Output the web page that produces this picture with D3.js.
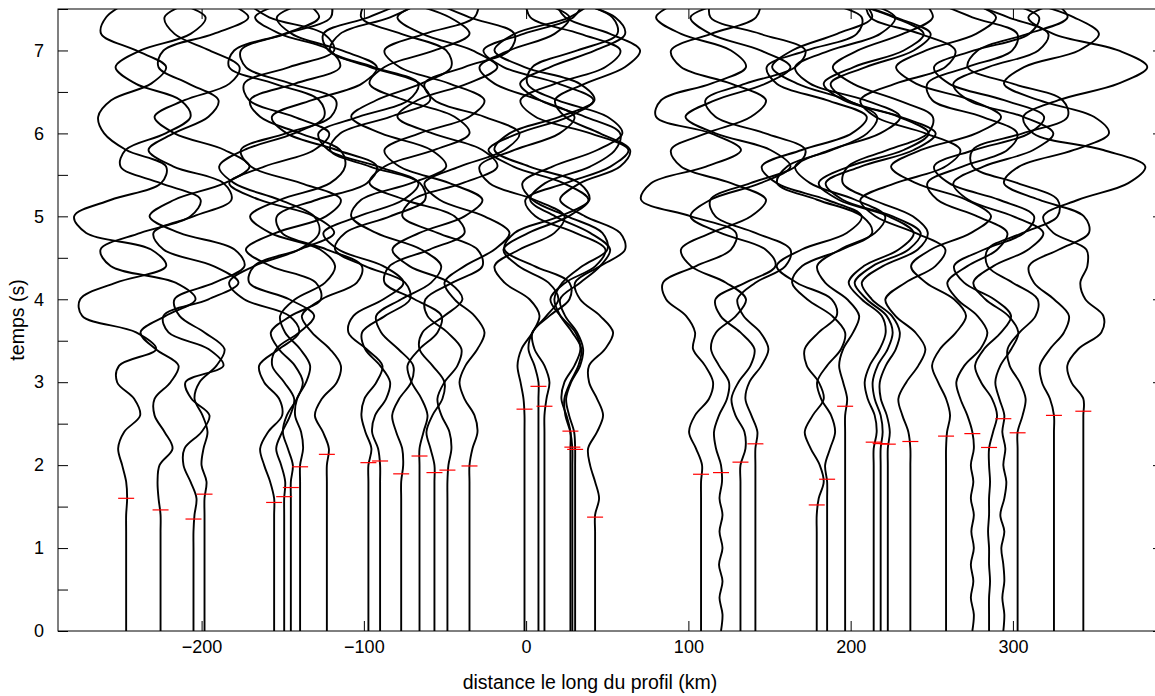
<!DOCTYPE html>
<html><head><meta charset="utf-8">
<script src="https://cdn.jsdelivr.net/npm/d3@7"></script>
<style>
body{margin:0;background:#fff}
svg{display:block}
text{font-family:"Liberation Sans",Arial,Helvetica,sans-serif}
</style>
</head><body>
<svg id="chart" width="1155" height="696"></svg>
<script>
// ---------------- data ----------------
// station positions along the profile (km)
const stations = [-246.5,-225.3,-205,-198.2,-155.3,-149.1,-145,-139.3,-122.8,
  -97.2,-90,-77,-65.7,-56.5,-48.5,-34.9,
  -1,7.6,11.3,27.3,28.5,30.2,42.5,
  107.8,120.1,132.1,141.3,179.1,185.5,196.6,214.2,218.5,222.9,
  236.8,258.8,275,285.3,294.1,302.9,325.3,343.4];
// picked arrival times (s)
const picks = [1.60,1.46,1.35,1.65,1.55,1.62,1.73,1.98,2.13,
  2.03,2.05,1.895,2.11,1.91,1.94,1.99,
  2.675,2.95,2.71,2.41,2.217,2.19,1.373,
  1.89,1.91,2.036,2.257,1.52,1.83,2.71,2.277,2.26,2.253,
  2.285,2.35,2.38,2.213,2.56,2.39,2.6,2.65];
// sample times (s)
const times = [0,0.2,0.4,0.6,0.8,1.0,1.2,1.4,1.6,1.8,2.0,2.2,2.4,2.6,2.8,3.0,3.2,3.4,3.6,3.8,
  4.0,4.2,4.4,4.6,4.8,5.0,5.2,5.4,5.6,5.8,6.0,6.2,6.4,6.6,6.8,7.0,7.2,7.4,7.6];
// trace amplitudes (arbitrary units)
const amp01 = [0,0,0,0,0,0,0,0,1,0,-4,-8,-2,14,8,-9,-7,30,10,-44,-46,-10,40,25,-40,-52,-15,35,40,0,-22,-28,-15,25,40,10,-25,-20,5];
const amp02 = [0,0,0,0,0,0,0,0,-2,-3,-1,12,4,-6,-6,10,18,-5,-20,5,35,15,-50,-60,-20,30,40,0,-40,-35,5,30,20,-25,-45,-20,30,45,10];
const amp03 = [0,0,0,0,0,0,0,1,3,-3,-10,-9,8,16,-2,-8,30,15,-25,-30,15,45,20,-30,-40,0,38,30,-20,-45,-20,15,25,-5,-35,-30,20,55,30];
const amp04 = [0,0,0,0,0,0,0,0,0,2,-3,-1,3,-2,-10,-5,12,20,0,-25,-30,10,40,30,-25,-55,-30,20,45,20,-30,-50,-20,25,35,5,-30,-40,-10];
const amp05 = [0,0,0,0,0,0,0,0,0,-4,-10,-14,-6,8,5,-10,-15,5,25,15,-30,-45,-20,25,45,40,5,-40,-55,-30,20,50,45,0,-45,-40,10,45,30];
const amp06 = [0,0,0,0,0,0,0,0,0,1,-3,-8,-2,6,10,0,-12,-8,15,30,5,-35,-30,15,50,30,-25,-55,-20,30,45,10,-35,-40,5,50,40,-15,-40];
const amp07 = [0,0,0,0,0,0,0,0,0,0,2,-3,-8,-4,6,12,4,-12,-20,0,30,25,-20,-45,-15,35,50,10,-40,-50,-5,40,45,0,-45,-50,-5,40,40];
const amp08 = [0,0,0,0,0,0,0,0,0,0,0,3,1,-5,-3,6,10,0,-15,-20,-5,25,35,20,-30,-50,-20,30,45,40,0,-40,-50,-5,40,30,-20,-45,-10];
const amp09 = [0,0,0,0,0,0,0,0,0,0,0,2,-4,-12,-5,10,14,3,-15,-25,-5,30,35,0,-45,-50,-10,40,50,10,-40,-55,-15,35,50,15,-35,-50,-15];
const amp10 = [0,0,0,0,0,0,0,0,0,0,0,3,-3,-7,-4,8,14,-2,-20,-15,15,35,15,-30,-45,-10,35,50,10,-40,-50,-10,40,50,5,-40,-45,0,40];
const amp11 = [0,0,0,0,0,0,0,0,0,0,0,-2,-8,-5,6,10,0,-15,-18,5,30,25,-15,-45,-35,10,45,40,-10,-50,-40,10,50,40,-10,-50,-40,10,45];
const amp12 = [0,0,0,0,0,0,0,0,0,0,2,1,-5,-9,-2,10,12,-3,-20,-25,0,30,40,20,-25,-50,-40,10,45,30,-20,-50,-25,20,50,45,0,-40,-35];
const amp13 = [0,0,0,0,0,0,0,0,0,0,0,0,4,8,2,-8,-12,0,18,22,-5,-35,-30,10,45,35,-15,-50,-35,15,50,35,-15,-50,-35,15,50,30,-20];
const amp14 = [0,0,0,0,0,0,0,0,0,0,0,-4,-8,-2,8,10,-2,-15,-12,10,28,15,-25,-42,-15,30,48,15,-35,-50,-15,35,50,15,-35,-50,-10,40,45];
const amp15 = [0,0,0,0,0,0,0,0,0,0,1,4,2,-6,-10,-3,10,14,0,-20,-22,5,35,30,-10,-45,-35,15,50,35,-15,-50,-30,20,50,25,-25,-50,-20];
const amp16 = [0,0,0,0,0,0,0,0,0,0,0,3,8,5,-5,-10,-4,8,15,5,-15,-25,-5,25,40,15,-30,-45,-10,35,50,15,-35,-45,-5,40,45,0,-40];
const amp17 = [0,0,0,0,0,0,0,0,0,0,0,0,0,0,-1,-4,-7,-3,8,15,5,-20,-30,-5,30,40,10,-35,-45,-10,35,50,15,-30,-45,-15,30,45,10];
const amp18 = [0,0,0,0,0,0,0,0,0,0,0,0,0,0,0,0,-4,-10,-6,8,20,10,-20,-35,-10,30,50,25,-25,-50,-20,30,55,20,-35,-55,-15,35,45];
const amp19 = [0,0,0,0,0,0,0,0,0,0,0,0,0,0,2,5,0,-10,-12,5,25,25,-10,-40,-30,15,45,35,-15,-50,-35,15,50,35,-20,-50,-30,25,50];
const amp20 = [0,0,0,0,0,0,0,0,0,0,0,0,0,-4,-9,-6,4,10,5,-10,-20,-5,25,35,5,-35,-45,-5,40,58,20,-35,-50,-15,35,50,10,-40,-45];
const amp21 = [0,0,0,0,0,0,0,0,0,0,0,0,-2,-7,-8,-2,6,9,0,-12,-18,-10,10,35,30,-5,-40,-50,-20,25,50,35,-15,-45,-40,5,45,40,0];
const amp22 = [0,0,0,0,0,0,0,0,0,0,0,0,-1,-6,-9,-4,5,8,2,-10,-15,5,25,35,15,-20,-45,-30,15,40,45,10,-35,-55,-25,20,50,40,-5];
const amp23 = [0,0,0,0,0,0,0,0,4,0,-5,-7,2,8,2,-6,-6,10,18,5,-15,-20,5,30,25,-10,-35,-15,25,35,5,-30,-40,-10,30,45,15,-30,-40];
const amp24 = [0,0,0,0,0,0,0,0,0,0,1,-5,-12,-6,8,12,4,-8,-6,-15,-35,-38,-5,30,35,-10,-60,-50,5,40,10,-45,-40,10,45,30,-20,-45,-20];
const amp25 = [0,1.5,-1.5,1.5,-2,1.5,-1.5,1.5,-1.5,1,0,-5,-7,-2,6,8,-2,-10,-5,15,25,5,-30,-40,-10,30,45,10,-40,-50,-15,30,45,10,-40,-50,-10,35,40];
const amp26 = [0,0,0,0,0,0,0,0,0,0,0,5,4,-5,-9,-2,10,14,0,-20,-25,5,35,25,-20,-50,-30,20,50,30,-25,-55,-25,25,50,20,-30,-50,-10];
const amp27 = [0,0,0,0,0,0,0,0,0,0,0,0,2,-4,-10,-6,6,13,5,-12,-18,0,30,35,0,-40,-45,-5,40,50,10,-40,-50,-10,40,50,5,-45,-45];
const amp28 = [0,0,0,0,0,0,0,0,2,7,3,-6,-12,-4,7,2,-10,-12,2,20,15,-20,-40,-15,30,45,10,-40,-55,-15,35,50,10,-40,-50,-10,40,45,0];
const amp29 = [0,0,0,0,0,0,0,0,0,0,-2,3,8,4,-6,-10,0,14,18,5,-20,-35,-25,15,45,35,-10,-50,-40,5,40,50,20,-30,-55,-35,10,45,35];
const amp30 = [0,0,0,0,0,0,0,0,0,0,0,0,0,0,2,-2,-6,-2,8,14,2,-20,-28,-5,30,40,10,-35,-50,-15,35,55,20,-35,-50,-15,35,50,15];
const amp31 = [0,0,0,0,0,0,0,0,0,0,0,0,3,1,-6,-9,-4,6,12,8,-12,-25,-10,25,40,15,-35,-55,-25,30,55,25,-30,-50,-20,30,50,20,-30];
const amp32 = [0,0,0,0,0,0,0,0,0,0,0,0,2,0,-6,-8,-3,7,12,6,-14,-26,-8,28,40,12,-38,-55,-20,33,55,20,-33,-50,-15,33,50,15,-33];
const amp33 = [0,0,0,0,0,0,0,0,0,0,0,0,2,-1,-7,-8,-2,8,12,4,-16,-26,-5,30,40,25,-15,-45,-40,0,40,45,10,-35,-55,-30,15,45,35];
const amp34 = [0,0,0,0,0,0,0,0,0,0,0,0,-2,-8,-12,-4,8,15,5,-15,-25,-5,25,35,5,-35,-50,-15,35,50,15,-35,-50,-15,35,45,10,-40,-45];
const amp35 = [0,0,0,0,0,0,0,0,0,0,0,0,1,4,0,-8,-14,-6,10,20,8,-20,-35,-15,25,45,20,-30,-55,-25,30,55,25,-30,-50,-20,30,50,20];
const amp36 = [0,1.5,-1.5,1,-1.5,1.5,-1,1.5,-1.5,1,-1.5,1.5,0,-5,-12,-16,-8,8,15,5,-15,-25,-5,25,35,5,-35,-45,-10,35,45,10,-40,-45,-5,40,45,0,-40];
const amp37 = [0,0,0,1,0,0,-1,0,0,1,0,0,4,8,3,-8,-14,-5,12,22,5,-25,-35,-5,35,45,10,-40,-55,-15,40,55,15,-40,-55,-15,40,50,10];
const amp38 = [0,1,-1,1,0,-2,1,-3,1,3,0,2,-1,1,-4,-8,-3,8,15,5,-18,-30,-10,25,40,10,-35,-50,-20,30,50,20,-35,-50,-15,35,45,5,-40];
const amp39 = [0,0,0,0,0,0,0,0,0,0,0,0,0,5,8,2,-8,-10,2,18,20,-5,-30,-30,5,40,40,0,-45,-45,5,50,45,-5,-50,-40,10,50,35];
const amp40 = [0,0,0,0,0,0,0,0,0,0,0,0,0,0,-4,-12,-14,-4,10,15,0,-20,-25,5,35,30,-15,-50,-35,20,55,40,-15,-50,-30,25,45,20,-30];
const amp41 = [0,0,0,0,0,0,0,0,0,0,0,0,0,0,0,-12,-16,-5,18,20,2,-3,4,3,-30,-40,-5,45,62,20,-50,-60,-25,35,64,35,-30,-55,-20];
const amplitudes = [amp01,amp02,amp03,amp04,amp05,amp06,amp07,amp08,amp09,amp10,
  amp11,amp12,amp13,amp14,amp15,amp16,amp17,amp18,amp19,amp20,
  amp21,amp22,amp23,amp24,amp25,amp26,amp27,amp28,amp29,amp30,
  amp31,amp32,amp33,amp34,amp35,amp36,amp37,amp38,amp39,amp40,amp41];
const xTicks = [-200,-100,0,100,200,300];
const yTicksLeft = [0,0.5,1,1.5,2,2.5,3,3.5,4,4.5,5,5.5,6,6.5,7,7.5];
const yTicksRight = [0,1,2,3,4,5,6,7];
const xDomain = [-288.5, 392.5];
const yDomain = [0, 7.5];
const gain = 0.616; // km of deflection per amplitude unit

// ---------------- drawing ----------------
const svg = d3.select('#chart');
const L = 58, R = 1163, T = 9, B = 631;
const x = d3.scaleLinear().domain(xDomain).range([L, R]);
const y = d3.scaleLinear().domain(yDomain).range([B, T]);

svg.append('defs').append('clipPath').attr('id','clip')
  .append('rect').attr('x', L).attr('y', T).attr('width', R - L).attr('height', B - T);

const plot = svg.append('g').attr('clip-path','url(#clip)');

const line = d3.line()
  .x(d => x(d.s + d.a * gain))
  .y(d => y(d.t))
  .curve(d3.curveCatmullRom.alpha(0.5));

stations.forEach((s, i) => {
  const pts = amplitudes[i].map((a, k) => ({s: s, a: a, t: times[k]}));
  plot.append('path').datum(pts)
    .attr('d', line)
    .attr('fill','none')
    .attr('stroke','#000')
    .attr('stroke-width', 1.9)
    .attr('stroke-linejoin','round');
});

plot.selectAll('line.pick').data(stations).enter().append('line')
  .attr('class','pick')
  .attr('x1', (s) => x(s) - 8)
  .attr('x2', (s) => x(s) + 8)
  .attr('y1', (s, i) => y(picks[i]))
  .attr('y2', (s, i) => y(picks[i]))
  .attr('stroke','#ff0000')
  .attr('stroke-width', 1.2);

// axes
const fmt = d3.format('d');
const axB = svg.append('g').attr('transform',`translate(0,${B})`)
  .call(d3.axisBottom(x).tickValues(xTicks).tickSize(-10).tickPadding(9).tickFormat(fmt));
const axT = svg.append('g').attr('transform',`translate(0,${T})`)
  .call(d3.axisTop(x).tickValues(xTicks).tickSize(-10).tickFormat(''));
const axL = svg.append('g').attr('transform',`translate(${L},0)`)
  .call(d3.axisLeft(y).tickValues(yTicksLeft).tickSize(-10).tickPadding(14)
    .tickFormat(d => Number.isInteger(d) ? fmt(d) : ''));
const axR = svg.append('g').attr('transform',`translate(${R},0)`)
  .call(d3.axisRight(y).tickValues(yTicksRight).tickSize(-10).tickFormat(''));
[axB, axT, axL, axR].forEach(g => {
  g.select('.domain').remove();
  g.selectAll('.tick line').attr('stroke','#000').attr('stroke-width',1);
  g.selectAll('.tick text').attr('font-size', 18).attr('fill','#000')
    .attr('font-family','"Liberation Sans",Arial,sans-serif');
});

svg.append('rect').attr('x', L).attr('y', T).attr('width', R - L).attr('height', B - T)
  .attr('fill','none').attr('stroke','#000').attr('stroke-width',1);

svg.append('text').attr('x', 590).attr('y', 689)
  .attr('text-anchor','middle').attr('font-size',19.5).text('distance le long du profil (km)');
svg.append('text').attr('transform',`translate(24,${(T + B) / 2}) rotate(-90)`)
  .attr('text-anchor','middle').attr('font-size',19.5).text('temps (s)');
</script>
</body></html>
